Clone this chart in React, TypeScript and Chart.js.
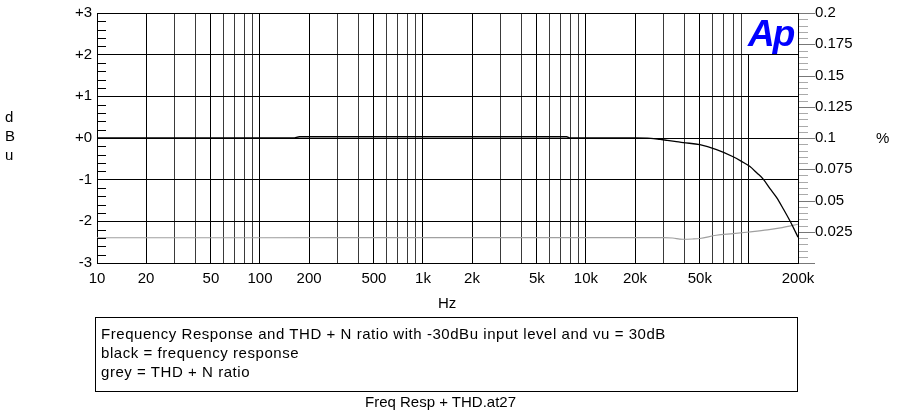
import React, { useEffect, useRef } from 'react';
import { Chart, registerables } from 'chart.js';

Chart.register(...registerables);

// ---- data ----
const respFreq = [10, 14, 160, 175, 500, 1000, 2000, 5000, 7600, 8000, 10000, 15000, 20000, 25000, 28500, 31300, 35000, 39500, 50000, 63300, 80000, 90000, 101000, 112000, 122000, 135000, 148000, 163000, 178000, 190000, 200000];
const respDb = [0.0, 0.0, 0.0, 0.03, 0.03, 0.03, 0.03, 0.03, 0.03, 0.0, 0.0, 0.0, 0.0, -0.01, -0.035, -0.055, -0.08, -0.11, -0.16, -0.28, -0.45, -0.56, -0.68, -0.84, -0.98, -1.22, -1.43, -1.71, -1.98, -2.2, -2.38];

const thdFreq = [10, 100, 1000, 10000, 20000, 30000, 34000, 39000, 45000, 50000, 63000, 80000, 100000, 130000, 160000, 200000];
const thdPct = [0.0202, 0.0202, 0.0203, 0.0203, 0.0203, 0.0203, 0.02, 0.019, 0.0192, 0.0196, 0.0222, 0.0235, 0.0248, 0.0265, 0.0283, 0.031];

const xGrid = [10, 20, 30, 40, 50, 60, 70, 80, 90, 100, 200, 300, 400, 500, 600, 700, 800, 900, 1000, 2000, 3000, 4000, 5000, 6000, 7000, 8000, 9000, 10000, 20000, 30000, 40000, 50000, 60000, 70000, 80000, 90000, 100000, 200000];
const xLabeled = [10, 20, 50, 100, 200, 500, 1000, 2000, 5000, 10000, 20000, 50000, 200000];
const xLabelText = ['10', '20', '50', '100', '200', '500', '1k', '2k', '5k', '10k', '20k', '50k', '200k'];

const yLeftValues = [-3, -2, -1, 0, 1, 2, 3];
const yLeftText = ['-3', '-2', '-1', '+0', '+1', '+2', '+3'];

const yRightValues = [0.025, 0.05, 0.075, 0.1, 0.125, 0.15, 0.175, 0.2];
const yRightText = ['0.025', '0.05', '0.075', '0.1', '0.125', '0.15', '0.175', '0.2'];

const FONT = '"Liberation Sans", Arial, Helvetica, sans-serif';

const minorTicksPlugin = {
  id: 'apMinorTicks',
  afterDraw(chart: any) {
    const { ctx, chartArea, scales } = chart;
    const y = scales.y;
    const y2 = scales.y2;
    ctx.save();
    ctx.lineWidth = 1;
    ctx.strokeStyle = '#000';
    for (let i = 0; i <= 30; i++) {
      if (i % 5 === 0) continue;
      const py = Math.round(y.getPixelForValue(-3 + i * 0.2)) + 0.5;
      ctx.beginPath();
      ctx.moveTo(chartArea.left, py);
      ctx.lineTo(chartArea.left + 9, py);
      ctx.stroke();
    }
    for (let i = 0; i <= 40; i++) {
      const major = i % 5 === 0;
      const py = Math.round(y2.getPixelForValue(i * 0.005)) + 0.5;
      ctx.strokeStyle = major ? '#777' : '#aaa';
      ctx.beginPath();
      ctx.moveTo(chartArea.right + 1, py);
      ctx.lineTo(chartArea.right + (major ? 17 : 10), py);
      ctx.stroke();
    }
    ctx.restore();
  },
};

const noPadY = (w: number) => (scale: any) => {
  scale.width = w;
  scale.paddingTop = 0;
  scale.paddingBottom = 0;
};

export default function App() {
  const ref = useRef<HTMLCanvasElement | null>(null);

  useEffect(() => {
    if (!ref.current) return;
    const chart = new Chart(ref.current, {
      type: 'line',
      data: {
        datasets: [
          {
            label: 'Frequency response',
            data: respFreq.map((f, i) => ({ x: f, y: respDb[i] })),
            yAxisID: 'y',
            borderColor: '#000',
            borderWidth: 1.3,
            pointRadius: 0,
            cubicInterpolationMode: 'monotone',
          },
          {
            label: 'THD + N ratio',
            data: thdFreq.map((f, i) => ({ x: f, y: thdPct[i] })),
            yAxisID: 'y2',
            borderColor: '#a0a0a0',
            borderWidth: 1.2,
            pointRadius: 0,
            cubicInterpolationMode: 'monotone',
          },
        ],
      },
      options: {
        animation: false,
        responsive: false,
        layout: { padding: { top: 13, left: 0, right: 0, bottom: 0 } },
        plugins: {
          legend: { display: false },
          tooltip: { enabled: false },
        },
        scales: {
          x: {
            type: 'logarithmic',
            min: 10,
            max: 200000,
            afterBuildTicks: (scale: any) => {
              scale.ticks = xGrid.map((v) => ({ value: v }));
            },
            afterFit: (scale: any) => {
              scale.height = 151;
              scale.paddingLeft = 0;
              scale.paddingRight = 0;
            },
            grid: {
              drawTicks: false,
              lineWidth: 1,
              color: (c: any) => {
                const v = c.tick ? c.tick.value : 10;
                const m = Math.round(v / Math.pow(10, Math.floor(Math.log10(v) + 1e-9)));
                return m === 1 || m === 2 || m === 5 ? '#000' : '#3a3a3a';
              },
            },
            border: { display: true, color: '#000', width: 1 },
            ticks: {
              autoSkip: false,
              maxRotation: 0,
              minRotation: 0,
              padding: 7,
              color: '#000',
              font: { family: FONT, size: 15 },
              callback: (v: any) => {
                const i = xLabeled.indexOf(Number(v));
                return i >= 0 ? xLabelText[i] : '';
              },
            },
          },
          y: {
            type: 'linear',
            position: 'left',
            min: -3,
            max: 3,
            afterBuildTicks: (scale: any) => {
              scale.ticks = yLeftValues.map((v) => ({ value: v }));
            },
            afterFit: noPadY(97),
            grid: { drawTicks: false, color: '#000', lineWidth: 1 },
            border: { display: true, color: '#000', width: 1 },
            ticks: {
              padding: 5,
              color: '#000',
              font: { family: FONT, size: 15 },
              callback: (v: any) => {
                const i = yLeftValues.indexOf(Number(v));
                return i >= 0 ? yLeftText[i] : '';
              },
            },
          },
          y2: {
            type: 'linear',
            position: 'right',
            min: 0,
            max: 0.2,
            afterBuildTicks: (scale: any) => {
              scale.ticks = yRightValues.map((v) => ({ value: v }));
            },
            afterFit: noPadY(101),
            grid: { display: false, drawTicks: false },
            border: { display: true, color: '#000', width: 1 },
            ticks: {
              padding: 17,
              color: '#000',
              font: { family: FONT, size: 15 },
              callback: (v: any) => {
                const i = yRightValues.findIndex((r) => Math.abs(r - Number(v)) < 1e-9);
                return i >= 0 ? yRightText[i] : '';
              },
            },
          },
        },
      },
      plugins: [minorTicksPlugin],
    } as any);
    return () => chart.destroy();
  }, []);

  const text: React.CSSProperties = {
    position: 'absolute',
    fontFamily: FONT,
    fontSize: 15,
    lineHeight: '19px',
    color: '#000',
    whiteSpace: 'nowrap',
  };

  return (
    <div style={{ position: 'absolute', left: 0, top: 0, width: 899, height: 414, background: '#fff', overflow: 'hidden' }}>
      <canvas ref={ref} width={899} height={414} style={{ position: 'absolute', left: 0, top: 0, width: 899, height: 414 }} />
      <div style={{ ...text, left: 5, top: 107 }}>
        <div>d</div>
        <div>B</div>
        <div>u</div>
      </div>
      <div style={{ ...text, left: 876, top: 128 }}>%</div>
      <div style={{ ...text, left: 438, top: 292.5 }}>Hz</div>
      <div
        style={{
          position: 'absolute',
          left: 748,
          top: 14,
          width: 49,
          height: 40,
          background: '#fff',
        }}
      >
        <div
          style={{
            position: 'absolute',
            left: 0,
            top: 0.5,
            fontFamily: FONT,
            fontWeight: 'bold',
            fontStyle: 'italic',
            fontSize: 37,
            lineHeight: '37px',
            letterSpacing: -2,
            color: '#0000ff',
          }}
        >
          Ap
        </div>
      </div>
      <div
        style={{
          position: 'absolute',
          left: 95,
          top: 317,
          width: 703,
          height: 75,
          boxSizing: 'border-box',
          border: '1px solid #000',
          paddingLeft: 5,
          paddingTop: 5.5,
          fontFamily: FONT,
          fontSize: 15,
          lineHeight: '19px',
          letterSpacing: 0.55,
          color: '#000',
          whiteSpace: 'nowrap',
        }}
      >
        <div>Frequency Response and THD + N ratio with -30dBu input level and vu = 30dB</div>
        <div>black = frequency response</div>
        <div>grey = THD + N ratio</div>
      </div>
      <div style={{ ...text, left: 365, top: 392 }}>Freq Resp + THD.at27</div>
    </div>
  );
}
